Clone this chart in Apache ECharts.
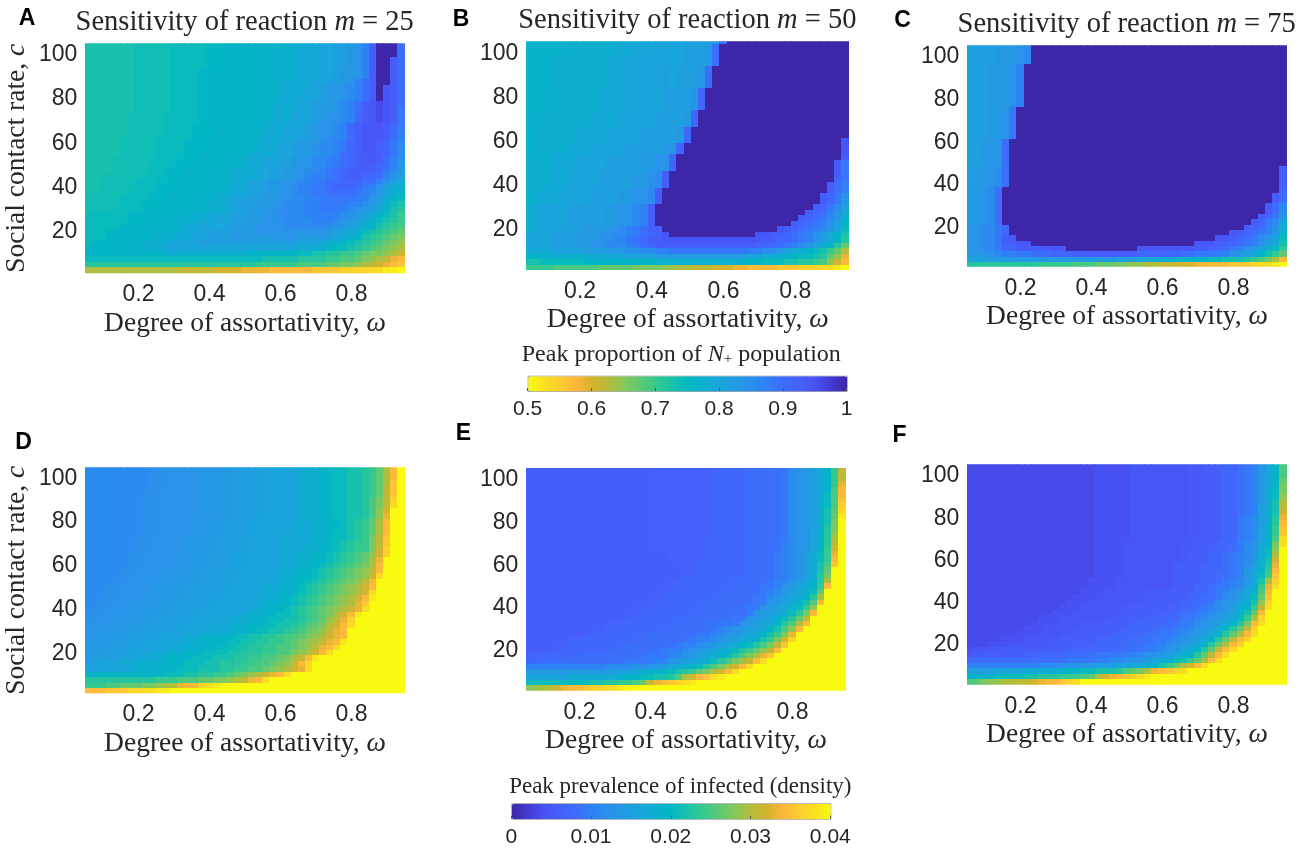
<!DOCTYPE html>
<html><head><meta charset="utf-8">
<style>html,body{margin:0;padding:0;background:#fff}#c{width:1311px;height:852px}</style>
<script src="https://cdn.jsdelivr.net/npm/echarts@6/dist/echarts.min.js"></script></head>
<body><div id="c"></div>
<script>
// One character per cell: a colour-scale level from LEVELS (dark end .. yellow end).
// Rows run top (c = 105) to bottom (c = 2.5); columns run omega = 0.06 .. 0.94.
const LEVELS = "0)1!2@3#4$5%6^7&8*9(aAbBcCdDeEfFgGhHiIjJkKlLmMnNoOpPqQrRsStTuUvVwWxXyYzZ";
const panelA = [
"jjjjjjjIII IIiiiiiHHH hhhhhhGGgg fffeeddcb9 50007",
"jjjjjjjIII IIiiiiiHHH hhhhhhGGgg fffeeddcb9 50007",
"jjjjjjjIII IIiiiiiHHH hhhhhhGGgg fffeeddcb9 50007",
"jjjjjjjIII IIiiiiiHHH hhhhhhGGgg fffeeddcb9 50057",
"jjjjjjjIII IIiiiiiHHH hhhhhhGGgg fffeeddcb9 50057",
"jjjjjjjIII IIiiiiHHHh hhhhhhGGgg fffeedccb9 50057",
"jjjjjjjIII IIiiiiHHHh hhhhhhGGgg fffeedccb9 50057",
"jjjjjjjIII IIiiiiHHHh hhhhhGGgfF ffeedccb97 50057",
"jjjjjjjIII IIiiiiHHHh hhhhhGGgfF feedccba97 50457",
"jjjjjjjIII IIiiiiHHHh hhhhhGGgfF feedccba97 50457",
"jjjjjjjIII IIiiiiHHHh hhhhhGGgfF feedccba97 50457",
"jjjjjjjIII IIiiiiHHHh hhhhGGgfFf eedccba975 43457",
"jjjjjjjIII IIiiiiHHHh hhhhGGgfFf eedccba975 43458",
"jjjjjjIIII IiiiiiHHHh hhhhGGgfFe eedcbba965 43458",
"jjjjjjIIII IiiiiiHHHh hhhhGGgfFe eedcbba965 43458",
"jjjjjjIIII IiiiiHHHhh hhhGGgfFee edcbba9654 44568",
"jjjjjjIIII IiiiiHHHhh hhhGGgfFee edcbba9654 44579",
"jjjjjIIIII iiiiiHHHhh hhGGgfFfee dccbaa9754 44579",
"jjjjjIIIII iiiiHHHhhh hhGGgfFeed ccbaa98654 4568a",
"jjjjjIIIII iiiiHHHhhh hhGGgfFeed ccbaa98654 4568a",
"jjjjjIIIII iiiHHHhhhh hGGgfFfeed ccbaa97655 4568a",
"jjjjIIIIIi iiiHHHhhhh GGgfFeeedc cbaa987655 4579b",
"jjjjIIIIIi iiHHHhhhhh GGgfFeeddc bbaa987655 5679c",
"jjjjIIIIIi iHHHhhhhhG gfFfeeddcb baa9876555 568ac",
"jjjIIIIIii iHHHhhhhhG ggfFfeddcc ba99876556 679bd",
"jjIIIIIiii HHHhhhhhGG gfFeedccbb a998776667 79bdf",
"jjIIIIIiii HHHhhhhhGG gfFeedccba 9988766678 9bdfg",
"jIIIIIiiiH HHhhhhhGGg fFeeddcbba 9988777789 acegh",
"IIIIIiiiiH HHhhhhhGgF feeddccbba a998888899 bdfhi",
"IIIIIiiiHH HhhhhGGggF eeddccbbaa a99888899a cegij",
"IIIIiiiiHH HhhhhGGggF eeddccbbaa a998899abc dfhjk",
"iiiiiiHHHh hhhGGgFffE eddccbbaaa a99999abcd fhijl",
"iiiiiiHHHh hhGGgFffEe eddccbbbaa aa999abcdf hijkl",
"iiiiiHHHhh hGGgFfEeee ddccbbbbaa aaaaabcdfg hjklm",
"iiiHHHhhhh GGgFfEeDdd dcccbbbbbb bbbbcdefgi jklmn",
"iiihhhhhhh gggffeeddd dcccccccbb ccccdefghj klmno",
"ihhhhhhhgg gffeeedddd dddddddddd eeefgghijk lmnop",
"hhhhhhhhgg ffeeeeeeee eeeeeeeeef ffgghiijkl mnopq",
"hhhhhhhhhh hggggggggg ggghhhhhhh iijjkkllmn oopqs",
"iiiiiiiiii iiiiiiiiii iiiiijjjjj kkkkllmmno pqrtu",
"kkkkkkkkkk kkkkkkkkkk kkkkllllll mmmmnnoopq rstuv",
"qqqqqqqqqq qqqrrrrrss ssttttuuuu uuvvvvwwww xxyyz"];
const panelB = [
"GGGGGggggg ggffffeeee eeddddc700 0000000000 00000",
"GGGGGggggg ggffffeeee eedddc7000 0000000000 00000",
"GGGGGggggg ggfffeeeee eedddc7000 0000000000 00000",
"GGGGgggggg gfffeeeeee eedddc7000 0000000000 00000",
"GGGGgggggg gfffeeeeee eedddc7000 0000000000 00000",
"GGGGgggggg gfffeeeeed edddc70000 0000000000 00000",
"GGGGgggggg gfffeeeeed edddc70000 0000000000 00000",
"GGGGgggggg gfffeeeeed edddc70000 0000000000 00000",
"GGGGgggggg gfffeeeeed edddc70000 0000000000 00000",
"GGGggggggg ffffeeeeed dddc600000 0000000000 00000",
"GGGggggggg ffffeeeeed dddc600000 0000000000 00000",
"GGGggggggg ffffeeeeed dddc600000 0000000000 00000",
"GGGggggggg ffffeeeeed dddc600000 0000000000 00000",
"GGgggggggf fffeeeeedd ddc6000000 0000000000 00000",
"GGgggggggf fffeeeeedd ddc6000000 0000000000 00000",
"GGgggggggf fffeeeeedd ddc6000000 0000000000 00000",
"Gggggggfff feeeeedddd dc60000000 0000000000 00000",
"Gggggggfff feeeeedddd dc60000000 0000000000 00000",
"Gggggggfff feeeeedddd dc60000000 0000000000 00004",
"Ggggggfffe eeeedddddc c600000000 0000000000 00004",
"Ggggggfffe eeeedddddc c600000000 0000000000 00004",
"ggggfffeee edddddccbb 6000000000 0000000000 00005",
"ggggfffeee edddddccbb 6000000000 0000000000 00058",
"ggggfffeee edddddccbb 6000000000 0000000000 00058",
"gggfffeeee dddddccba5 0000000000 0000000000 00058",
"gggfffeeee dddddccba5 0000000000 0000000000 00068",
"gggfffeeee dddddccba5 0000000000 0000000000 00579",
"ggfffeeeed dddccbba50 0000000000 0000000000 00579",
"ggfffeeeed dddccbba50 0000000000 0000000000 0568b",
"ggfffeeeed dddccbba50 0000000000 0000000000 0568c",
"ffeeeedddd dccbba9500 0000000000 0000000000 568ad",
"ffeeeedddd dccbba9500 0000000000 0000000005 679bf",
"ffeeeedddd dccbba9500 0000000000 0000000056 78acg",
"ffeeeedddd dccbba9500 0000000000 0000000567 89bdh",
"ffeeedddcc cbba987550 0000000000 0000045678 9acei",
"eeeedddccc bbaa987654 0000000000 0044556789 bdfhj",
"eeeedddccb baa9876554 4444444444 4445566789 bdfhk",
"eeeedddccb baaa987655 5555555555 5566778 9ac eghkn",
"ffffeeeedd dcccbbaa99 8888888888 899abcefgh ijlnq",
"hhgggggggf fffeeeeedd dddddddddd eeffgghhii jknpt",
"jjiiiiiihh hhhhhhhhgg gggggggggg hhhiiijjkk lmpsu",
"llllmmmmmm nnnnnoooop pqqrrrssst tuuuuvvvww wxxyz"];
const panelC = [
"ddddcccba0 0000000000 0000000000 0000000000 00000",
"ddddcccba0 0000000000 0000000000 0000000000 00000",
"ddddcccba0 0000000000 0000000000 0000000000 00000",
"ddddcccba0 0000000000 0000000000 0000000000 00000",
"dddcccb900 0000000000 0000000000 0000000000 00000",
"dddcccb900 0000000000 0000000000 0000000000 00000",
"dddcccb900 0000000000 0000000000 0000000000 00000",
"dddcccb900 0000000000 0000000000 0000000000 00000",
"dddcccb900 0000000000 0000000000 0000000000 00000",
"dddcccb900 0000000000 0000000000 0000000000 00000",
"dddcccb900 0000000000 0000000000 0000000000 00000",
"dddcccb900 0000000000 0000000000 0000000000 00000",
"dddccb8000 0000000000 0000000000 0000000000 00000",
"dddccb8000 0000000000 0000000000 0000000000 00000",
"dddccb8000 0000000000 0000000000 0000000000 00000",
"dddccb8000 0000000000 0000000000 0000000000 00000",
"dddccb8000 0000000000 0000000000 0000000000 00000",
"dddccb8000 0000000000 0000000000 0000000000 00000",
"ddccb70000 0000000000 0000000000 0000000000 00000",
"ddccb70000 0000000000 0000000000 0000000000 00000",
"ddccb70000 0000000000 0000000000 0000000000 00000",
"ddccb70000 0000000000 0000000000 0000000000 00000",
"ddccb70000 0000000000 0000000000 0000000000 00000",
"dccba70000 0000000000 0000000000 0000000000 00005",
"dccba70000 0000000000 0000000000 0000000000 00005",
"dccba70000 0000000000 0000000000 0000000000 00005",
"dccba70000 0000000000 0000000000 0000000000 00005",
"ccba700000 0000000000 0000000000 0000000000 00006",
"ccba700000 0000000000 0000000000 0000000000 00057",
"ccba700000 0000000000 0000000000 0000000000 00057",
"ccba700000 0000000000 0000000000 0000000000 0057a",
"ccba700000 0000000000 0000000000 0000000000 0057a",
"ccba700000 0000000000 0000000000 0000000000 0568c",
"ccba700000 0000000000 0000000000 0000000000 568ae",
"bbaa860000 0000000000 0000000000 0000000005 679bf",
"bbaa860000 0000000000 0000000000 0000000456 789cg",
"bbaa854000 0000000000 0000000000 0000044567 8acei",
"bbaa855440 0000000000 0000000000 0044455678 9bdfj",
"bbaa866555 5444000000 0000444444 4455667 89b cegil",
"ccbba99887 7766655555 5555666666 7788899bcd fhjln",
"eeddddcccc cccccccccc cdddeeffgg hhhhiijjjk lmoqu",
"kkkkkkkkkk lllllmmmnn nooppqqrrr sstuuuuvvv wxxyz"];
const panelD = [
"aaaaaaaaaA AbbbbbBBcc CCddDDeeee fgghhiijjk lnquz",
"aaaaaaaaaA AbbbbbBBcc CCddDDeeee fgghhiijjk lnquz",
"aaaaaaaaaA AbbbbbBBcc CCddDDeeee fgghhiijjk lnquz",
"aaaaaaaaaA AbbbbbBBcc CCddDDeeee fgghhiijjk lnqvz",
"aaaaaaaaaA AbbbbbBBcc CCddDDeeee fgghhiijjk lnrvz",
"aaaaaaaaAA bbbbbbBBcc CCddDDeeee fgghhiijjk lnrvz",
"aaaaaaaaAA bbbbbbBBcc CCddDDeeee fgghhiijjk morwz",
"aaaaaaaaAA bbbbbbBBcc CCddDDeeee fgghhiijjk morxz",
"aaaaaaaaAA bbbbbbBBcc CCddDDeeee fgghhiijjk mpszz",
"aaaaaaaaAA bbbbbbBBcc CCddDDeeee fgghhiijjk mptzz",
"aaaaaaaaAA bbbbbBBccC CddDDeeeef ffgghhijkl nquzz",
"aaaaaaaaAA bbbbbBBccC CddDDeeeef ffgghhijkl nquzz",
"aaaaaaaaAA bbbbbBBccC CddDDeeeef ffgghiijkl nquzz",
"aaaaaaaAAb bbbbBBccCC ddDDeeeeff ffgghiijkl orvzz",
"aaaaaaaAAb bbbbBBccCC ddDDeeeeff fgghhijkll orvzz",
"aaaaaaaAAb bbbbBBccCC ddDDeeeeff fgghhijkll oswzz",
"aaaaaaAAbb bbbBBccCCd dDDeeeeeff gghhijklmn pswzz",
"aaaaaaAAbb bbbBBccCCd dDDeeeeeff gghhijklmn qtzzz",
"aaaaaaAAbb bbbBBccCCd dDDeeeeeff ghhijklmno quzzz",
"aaaaaAAbbb bBBcccCCdd DDeeeeefgg hhijklmnop ruzzz",
"aaaaaAAbbb bBBcccCCdd DDeeeeefgg hhijklmnop sxzzz",
"aaaaAAbbbb BBcccCCddD Deeeeeffgh hijklmnopr uzzzz",
"aaaAAbbbbB BcccCCdddD Deeeeffggh ijklmnopqs uzzzz",
"aaaAAbbbbB BcccCCdddD Deeeeffggh ijklmnopqs xzzzz",
"aaAAbbbbBB cccCCdddDD eeeeffgghi jklmnopqsu yzzzz",
"aaAAbbbBBc ccCCdddDDe eeeefgghhi jklmnopqtv zzzzz",
"aAAbbbBBcc cCCdddDDee eeefgghhij klmnopqstx zzzzz",
"AAbbbBBccc CCdddDDeee eefgghhiij klmnoqsuyz zzzzz",
"AbbbBBcccC CdddDDeeee ffgghhiijj klmnprtwzz zzzzz",
"bbbBBcccCC dddDDeeeff fgghhiijjk lmnoqsuxzz zzzzz",
"bbBBcccCCd ddDDeeefff gghhiijjkl mnoprtuzzz zzzzz",
"bBBccCCddD DeeeffggGh hiijjkklmm nopqstuzzz zzzzz",
"BBccCCddDD eeeffgghhh iijjkkllmn opqrtuyzzz zzzzz",
"BccCCddDDe eeffgghhhi ijjkkllmmn oprtuxzzzz zzzzz",
"ccCdddDeee ffgghhhiii jjkkkllmmo pqsuxzzzzz zzzzz",
"cCddDeeeff gghhhiiijj jkkllmmnoq ruyzzzzzzz zzzzz",
"ddeeeffggg ghhhiiijjk kkllmmnopr uxzzzzzzzz zzzzz",
"eeeeeefggg hhhiiijjjk kllmmnopqs txzzzzzzzz zzzzz",
"hhhhhhhhhh hiiijjkkll mnopqrtuxz zzzzzzzzzz zzzzz",
"kkkkkkkkkk lllmmmnnoo pqrtuxzzzz zzzzzzzzzz zzzzz",
"lllmmnnnoo pqqtuuwxyz zzzzzzzzzz zzzzzzzzzz zzzzz",
"uuuvvvwwxx yyzzzzzzzz zzzzzzzzzz zzzzzzzzzz zzzzz"];
const panelE = [
"5555555555 55555555%% %%%%%%6666 ^7777&8abc dfhlr",
"5555555555 55555555%% %%%%%%6666 ^7777&8abc dfhlr",
"5555555555 55555555%% %%%%%%6666 ^7777&8abc dfhlr",
"5555555555 55555555%% %%%%%%6666 ^7777&8abc dfhlt",
"5555555555 55555555%% %%%%%%6666 ^7777&8abc dfhmu",
"5555555555 55555555%% %%%%%%6666 ^7777&8abc dfimu",
"5555555555 55555555%% %%%%%%6666 ^7777&8abc dfimv",
"5555555555 55555555%% %%%%%%6666 ^7777&8abc dgimw",
"5555555555 55555555%% %%%%%%6666 ^7777&8abc dgjnx",
"5555555555 55555555%% %%%%%%6666 ^7777&8abc dgjny",
"5555555555 55555555%% %%%%%%6666 ^7777&8abc dgjoz",
"5555555555 55555555%% %%%%%%6666 ^7777&8abc dgkoz",
"5555555555 55555555%% %%%%%%6666 ^7777&8abc ehkpz",
"5555555555 55555555%% %%%%%%6666 ^7777&8abc ehkqz",
"5555555555 55555555%% %%%%%66666 ^7777&9abc ehkrz",
"5555555555 55555555%% %%%%%66666 ^7777&9abc ehlsz",
"5555555555 5555555555 %%%%%66666 ^777&89abd filtz",
"5555555555 5555555555 %%%%%66666 ^777&89abd filuz",
"5555555555 5555555555 5%%%666666 ^777&89abd fjmvz",
"5555555555 5555555555 55%%666666 ^777&89abd fjnzz",
"5555555555 5555555555 55%%666666 ^777&89abd gkozz",
"5555555555 5555555555 %%66666^^7 ^777899bce gkqzz",
"5555555555 555555555% %666666^^7 777889bcef hluzz",
"5555555555 55555555%% 666666^^77 77789acdeg inzzz",
"5555555555 5555555%%6 66666^^777 7788abdefh kqzzz",
"5555555555 555555%%66 6666^^7777 7789bcdfhj muzzz",
"5555555555 55555%%666 666^^77777 788bcdegil pzzzz",
"5555555555 5555%%6666 66^^77777& 78bcdegiko uzzzz",
"5555555555 555%%66666 ^^77777&&8 8bcdegiknr zzzzz",
"5555555555 5%%666666^ ^7777&&888 bcdefhkmqu zzzzz",
"555555555% %666666^^7 77777&89ab cdefhjmpuz zzzzz",
"55555555%% 66666^^777 7777889abc defhjlotzz zzzzz",
"555555%%66 66666^^777 77&899abcd fghjloswzz zzzzz",
"5555%%6666 6^^7777777 &899abcdef hikmorvzzz zzzzz",
"555%%66666 6^^7777&&8 99abcdefgi klnpruzzzz zzzzz",
"%66666^^77 77777&&888 9abcdefhik moqtvzzzzz zzzzz",
"^^77777777 77&&888899 bcdefgikmo qruxzzzzzz zzzzz",
"9999999999 9aaaabbbcd efghikmoqs uxzzzzzzzz zzzzz",
"cccccccccc ccdddefggh ijklnoqsux zzzzzzzzzz zzzzz",
"eeeeeeffff ffgghhiijj kmqsuvxyzz zzzzzzzzzz zzzzz",
"iiiiiiiiij jkkllmnrtu vwxyzzzzzz zzzzzzzzzz zzzzz",
"ppqrrtuuvw wxxyzzzzzz zzzzzzzzzz zzzzzzzzzz zzzzz"];
const panelF = [
"3333333333 33333333## ###4444444 4$$5556678 9cehm",
"3333333333 33333333## ###4444444 4$$5556678 9cehm",
"3333333333 33333333## ###4444444 4$$5556678 9cehm",
"3333333333 33333333## ###4444444 4$$5556678 9cehn",
"3333333333 33333333## ###4444444 4$$5556678 9ceho",
"3333333333 33333333## ###4444444 4$$5556678 9cfio",
"3333333333 33333333## ###4444444 4$$5556678 9cfip",
"3333333333 33333333## ###4444444 4$$5556678 9cfjq",
"3333333333 33333333## ###4444444 4$$5556678 9dgjr",
"3333333333 33333333## ###4444444 4$$5556678 9dgjs",
"3333333333 33333333## ###4444444 4$$5556689 adgkt",
"3333333333 33333333## ###4444444 4$$5556689 adgku",
"3333333333 33333333## ###4444444 4$$5556689 adhlv",
"3333333333 33333333## ###4444444 4$$5556689 aehlv",
"3333333333 33333333## ###4444444 4$$5556689 aehmx",
"3333333333 33333333## ##44444444 $$5556678a behox",
"3333333333 33333333## ##44444444 $$5556678a bfipz",
"3333333333 33333333## ##44444444 $55566789a cfiqz",
"3333333333 33333333## ##44444444 $55566789a cgjsz",
"3333333333 33333333## ##44444445 555666789b dgktz",
"3333333333 33333333## ##44444445 555666789c ehluz",
"3333333333 33333333## ##44444445 555667789c eimvz",
"3333333333 3333333### #444444445 55566789ac fjqwz",
"3333333333 3333333### #444444445 55667889ad gltxz",
"3333333333 333333###4 44444$$555 5566789bce hmuzz",
"3333333333 33333###44 4444$$5555 566778abdf invzz",
"3333333333 3333###444 444$$55555 66778abceg jpwzz",
"3333333333 333###4444 4$$55555%% 67789abdfh lrxzz",
"3333333333 33###44444 $$55555%66 7789abcegj nuzzz",
"3333333333 ###444444$ $5555%6666 889abcdfil qwzzz",
"333333333# ##4444$$55 555%666^7& 89abcdfhko uxzzz",
"33333333## #4444$$555 55%666^7&8 9abcdfhknr wzzzz",
"3333333### 444$$55555 %666^7&889 abcdfhknqu xzzzz",
"33333###44 4$$55555%6 66^77&889a bcdfhknruw zzzzz",
"333###4444 $$55555%66 6^77&889ab cdfhknquwz zzzzz",
"#44$$55555 5555%66666 ^77&889abc efhknruxzz zzzzz",
"$5555555%6 666^777&88 8899abbcde ghknruxzzz zzzzz",
"7777777777 777&888899 aabbccefgi jlnquxzzzz zzzzz",
"9999999999 aaabbbccdd deefgghjln qsuxzzzzzz zzzzz",
"ddddeeeeff ffgghhiijj jkmnoqtuvw xzzzzzzzzz zzzzz",
"hhhhiiiijj kkklllmnqs tuvwxyzzzz zzzzzzzzzz zzzzz",
"mnoppqqrrs tuuvwxzzzz zzzzzzzzzz zzzzzzzzzz zzzzz"];
const omegaTicks = [0.2, 0.4, 0.6, 0.8];
const contactTicks = [20, 40, 60, 80, 100];
const scaleStops = ["#3d26a8","#4339d0","#4852f4","#4560fb","#3c6dfb","#3080f8","#2a90ea","#229be2","#1aa5dc","#0eafd0","#02b8c4","#1cc2aa","#35c98f","#5dc974","#85c85a","#b5bc3a","#d2b42e","#fdb53a","#fcce30","#fae020","#f8fa10"];
const panelLetters = ["A","B","C","D","E","F"];
const reactionM = [25, 50, 75];

const panels = [panelA,panelB,panelC,panelD,panelE,panelF];
const bad=[];
panels.forEach((p,pi)=>{ if(p.length!==42) bad.push(panelLetters[pi]+' rows '+p.length);
  p.forEach((r,ri)=>{const n=r.replace(/ /g,'').length; if(n!==45) bad.push(panelLetters[pi]+ri+':'+n);});});
if(bad.length) throw new Error('BAD '+bad.join(' '));

const geo=[[85.3,43.3,319.4,230,1.3,105.2],[526.3,41.3,322.7,228.7,1.5,105.4],[967.3,45.3,319.4,221.4,1.8,105.4],
           [85.3,467.3,319.4,226,1.7,105],[526.3,468,319.4,222.7,1.4,105.4],[967.3,464.3,319.4,220.4,1.2,105.5]];
const LS='"Liberation Sans"', SF='"Liberation Serif"';
const tickFont=23, nameFont=27.5, ink='#262626';

function decode(p,pi){const out=[];
  p.forEach((row,ri)=>{const s=row.replace(/ /g,'');
    for(let ci=0;ci<s.length;ci++){const k=LEVELS.indexOf(s[ci])/70;
      const v=pi<3?1-k*0.5:k*0.04;
      out.push([+(0.06+0.02*ci).toFixed(2),2.5*(42-ri),v]);}});
  return out;}
function cell(params,api){
  const x=api.value(0),y=api.value(1);
  const a=api.coord([x-0.01,y+1.25]),b=api.coord([x+0.01,y-1.25]);
  const l=Math.floor(a[0]),t=Math.floor(a[1]);
  return {type:'rect',silent:true,shape:{x:l,y:t,width:Math.ceil(b[0])-l,height:Math.ceil(b[1])-t},style:{fill:api.visual('color')}};
}

const grid=[],xAxis=[],yAxis=[],series=[],title=[];
geo.forEach((g,i)=>{
  grid.push({left:g[0],top:g[1],width:g[2],height:g[3]});
  xAxis.push({type:'value',gridIndex:i,min:0.05,max:0.95,
    axisLine:{show:false},axisTick:{show:false},splitLine:{show:false},
    axisLabel:{color:ink,fontFamily:LS,fontSize:tickFont,margin:10,hideOverlap:false,customValues:omegaTicks},
    name:'Degree of assortativity, {i|ω}',nameLocation:'middle',nameGap:36,
    nameTextStyle:{color:ink,fontFamily:SF,fontSize:nameFont,
      rich:{i:{fontFamily:SF,fontStyle:'italic',fontSize:nameFont,color:ink}}}});
  yAxis.push({type:'value',gridIndex:i,min:g[4],max:g[5],
    axisLine:{show:false},axisTick:{show:false},splitLine:{show:false},
    axisLabel:{color:ink,fontFamily:LS,fontSize:tickFont,margin:8,customValues:contactTicks},
    name:(i%3===0)?'Social contact rate, {i|c}':'',nameLocation:'middle',nameGap:55,nameRotate:90,
    nameTextStyle:{color:ink,fontFamily:SF,fontSize:nameFont,
      rich:{i:{fontFamily:SF,fontStyle:'italic',fontSize:nameFont,color:ink}}}});
  series.push({type:'custom',coordinateSystem:'cartesian2d',xAxisIndex:i,yAxisIndex:i,clip:true,silent:true,
    renderItem:cell,encode:{x:0,y:1},data:decode(panels[i],i),progressive:0,animation:false});
});
// colour-bar axes, sharing place with the visualMap bars
const bars=[{left:527.7,top:375.7,width:319,height:15.3,min:0.5,max:1,interval:0.1},
            {left:511.3,top:803.3,width:319,height:15.4,min:0,max:0.04,interval:0.01}];
bars.forEach((b,j)=>{const gi=6+j;
  grid.push({left:b.left,top:b.top,width:b.width,height:b.height});
  xAxis.push({type:'value',gridIndex:gi,min:b.min,max:b.max,interval:b.interval,z:6,
    axisLine:{show:false},splitLine:{show:false},
    axisTick:{show:true,inside:true,length:3,lineStyle:{color:'#555',width:1}},
    axisLabel:{color:ink,fontFamily:LS,fontSize:21,margin:8,showMinLabel:true,showMaxLabel:true,hideOverlap:false}});
  yAxis.push({type:'value',gridIndex:gi,show:false,min:0,max:1});
});
function vm(b,idx,colors){return {type:'continuous',seriesIndex:idx,dimension:2,min:b.min,max:b.max,orient:'horizontal',
  left:b.left,top:b.top,itemWidth:b.height,itemHeight:b.width,padding:0,calculable:false,realtime:false,
  hoverLink:false,text:null,showLabel:false,borderWidth:1,borderColor:'#9a9a9a',inRange:{color:colors}};}
const visualMap=[vm(bars[0],[0,1,2],scaleStops.slice().reverse()),vm(bars[1],[3,4,5],scaleStops)];

const titlePos=[[244.7,23],[687.3,20.7],[1126.7,25]];
titlePos.forEach((p,i)=>title.push({text:'Sensitivity of reaction {i|m} = '+reactionM[i],left:p[0],top:p[1],padding:0,
  textAlign:'center',textVerticalAlign:'middle',
  textStyle:{color:ink,fontFamily:SF,fontSize:28.5,fontWeight:'normal',
    rich:{i:{fontFamily:SF,fontStyle:'italic',fontSize:28.5,color:ink}}}}));
const letterPos=[[27,19],[461,20],[902.5,20.7],[23.5,443],[463.5,434],[899.5,436]];
letterPos.forEach((p,i)=>title.push({text:panelLetters[i],left:p[0],top:p[1],padding:0,textAlign:'center',textVerticalAlign:'middle',
  textStyle:{color:'#000',fontFamily:LS,fontSize:23,fontWeight:'bold'}}));
title.push({text:'Peak proportion of {i|N}{s|+} population',left:681.3,top:355,padding:0,textAlign:'center',textVerticalAlign:'middle',
  textStyle:{color:ink,fontFamily:SF,fontSize:24,fontWeight:'normal',
    rich:{i:{fontFamily:SF,fontStyle:'italic',fontSize:24,color:ink},s:{fontFamily:SF,fontSize:15,color:ink,padding:[8,0,0,0]}}}});
title.push({text:'Peak prevalence of infected (density)',left:680.3,top:787.3,padding:0,textAlign:'center',textVerticalAlign:'middle',
  textStyle:{color:ink,fontFamily:SF,fontSize:23,fontWeight:'normal'}});

const chart=echarts.init(document.getElementById('c'),null,{renderer:'canvas'});
chart.setOption({animation:false,backgroundColor:'#fff',tooltip:{show:false},title,grid,xAxis,yAxis,series,visualMap});
</script></body></html>
